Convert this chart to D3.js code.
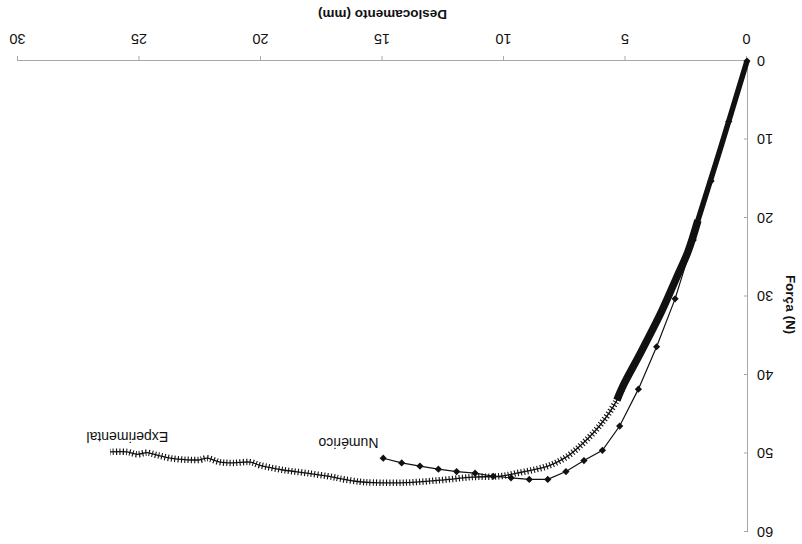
<!DOCTYPE html>
<html>
<head>
<meta charset="utf-8">
<script src="https://cdnjs.cloudflare.com/ajax/libs/d3/7.8.5/d3.min.js"></script>
<style>
  body { margin: 0; background: #fff; }
  svg text { font-family: "Liberation Sans", Arial, sans-serif; fill: #111; }
</style>
</head>
<body>
<svg></svg>
<script>
// dados (deslocamento em mm, força em N)
const expDesloc = [0, 1.11, 2.02, 2.43, 2.90, 3.50, 4.35, 5.12, 5.35, 6.05, 6.75, 7.41, 8.11, 8.81, 9.47, 10.16,
  11.28, 12.63, 13.99, 15.39, 15.93, 16.75, 17.04, 18.11, 19.09, 20.04, 20.45, 21.15, 21.69, 22.22, 22.51,
  23.05, 23.74, 24.28, 24.69, 25.10, 25.51, 26.21];
const expForca = [0, 11.3, 20.3, 24.3, 27.6, 31.8, 37.0, 41.5, 43.2, 46.4, 48.7, 50.4, 51.5, 52.1, 52.5, 52.9,
  53.0, 53.4, 53.7, 53.7, 53.6, 53.2, 53.0, 52.5, 52.1, 51.5, 51.1, 51.2, 51.1, 50.6, 50.8,
  50.8, 50.6, 50.2, 49.9, 50.1, 49.8, 49.8];
const numDesloc = [0, 0.75, 1.48, 2.21, 2.96, 3.72, 4.47, 5.24, 5.95, 6.71, 7.45, 8.20, 8.96, 9.71, 10.44,
  11.19, 11.95, 12.70, 13.46, 14.21, 14.97];
const numForca = [0, 7.7, 15.3, 22.8, 30.3, 36.4, 41.8, 46.5, 49.6, 50.9, 52.3, 53.3, 53.3, 53.1, 52.9,
  52.5, 52.3, 52.0, 51.6, 51.2, 50.6];
const xTicks = [0, 5, 10, 15, 20, 25, 30];
const yTicks = [0, 10, 20, 30, 40, 50, 60];

const W = 802, H = 544;
const thinLimit = 2.4;  // faixa mais estreita no início
const denseLimit = 5.3; // até aqui os marcadores formam uma faixa contínua

const svg = d3.select("svg").attr("width", W).attr("height", H);
// a figura original está de cabeça para baixo
const chart = svg.append("g").attr("transform", `rotate(180,${W / 2},${H / 2})`);

const x = d3.scaleLinear().domain([0, 30]).range([55, 784]);
const y = d3.scaleLinear().domain([0, 60]).range([483, 12]);

// eixos
const xAxis = d3.axisBottom(x).tickValues(xTicks).tickSize(5).tickSizeOuter(0).tickPadding(12);
const gx = chart.append("g").attr("transform", `translate(0,${y(0)})`).call(xAxis);
const yAxis = d3.axisLeft(y).tickValues(yTicks).tickSize(-4).tickSizeOuter(0).tickPadding(9);
const gy = chart.append("g").attr("transform", `translate(${x(0) - 1},0)`).call(yAxis);
[gx, gy].forEach(g => {
  g.selectAll(".domain, line").attr("stroke", "#a8a8a8");
  g.selectAll("text").style("font-size", "14.5px").attr("fill", "#111");
});

chart.append("text")
  .attr("x", (x(0) + x(30)) / 2).attr("y", y(0) + 51)
  .attr("text-anchor", "middle")
  .style("font-size", "13.5px").style("font-weight", "bold")
  .text("Deslocamento (mm)");
chart.append("text")
  .attr("transform", `translate(16,${(y(0) + y(60)) / 2 - 8}) rotate(-90)`)
  .attr("text-anchor", "middle")
  .style("font-size", "13.5px").style("font-weight", "bold")
  .text("Força (N)");

// séries
const expData = expDesloc.map((d, i) => [d, expForca[i]]);
const numData = numDesloc.map((d, i) => [d, numForca[i]]);

const line = d3.line().x(d => x(d[0])).y(d => y(d[1]));
const smooth = d3.line().x(d => x(d[0])).y(d => y(d[1])).curve(d3.curveCatmullRom);

// numérico
chart.append("path").datum(numData)
  .attr("d", line).attr("fill", "none").attr("stroke", "#111").attr("stroke-width", 1.2);
chart.selectAll(".diamond").data(numData).enter().append("path")
  .attr("class", "diamond")
  .attr("d", d3.symbol().type(d3.symbolSquare).size(26))
  .attr("transform", d => `translate(${x(d[0])},${y(d[1])}) rotate(45)`)
  .attr("fill", "#111");

// experimental
chart.append("path").datum(expData)
  .attr("d", smooth).attr("fill", "none").attr("stroke", "#111").attr("stroke-width", 1.3);
chart.append("path").datum(expData.filter(d => d[0] <= thinLimit + 0.1))
  .attr("d", smooth).attr("fill", "none").attr("stroke", "#111").attr("stroke-width", 5.5);
chart.append("path").datum(expData.filter(d => d[0] >= thinLimit - 0.5 && d[0] <= denseLimit + 0.1))
  .attr("d", smooth).attr("fill", "none").attr("stroke", "#111").attr("stroke-width", 7.5);
chart.append("path").datum(expData.filter(d => d[0] >= denseLimit - 0.3))
  .attr("d", smooth).attr("fill", "none").attr("stroke", "#111")
  .attr("stroke-width", 6.5).attr("stroke-dasharray", "1.1 2.2");

// rótulos das curvas
chart.append("text")
  .attr("x", x(16.4)).attr("y", y(48.0))
  .attr("text-anchor", "middle").style("font-size", "14px")
  .text("Numérico");
chart.append("text")
  .attr("x", x(25.5)).attr("y", y(47.3))
  .attr("text-anchor", "middle").style("font-size", "14px")
  .text("Experimental");
</script>
</body>
</html>
